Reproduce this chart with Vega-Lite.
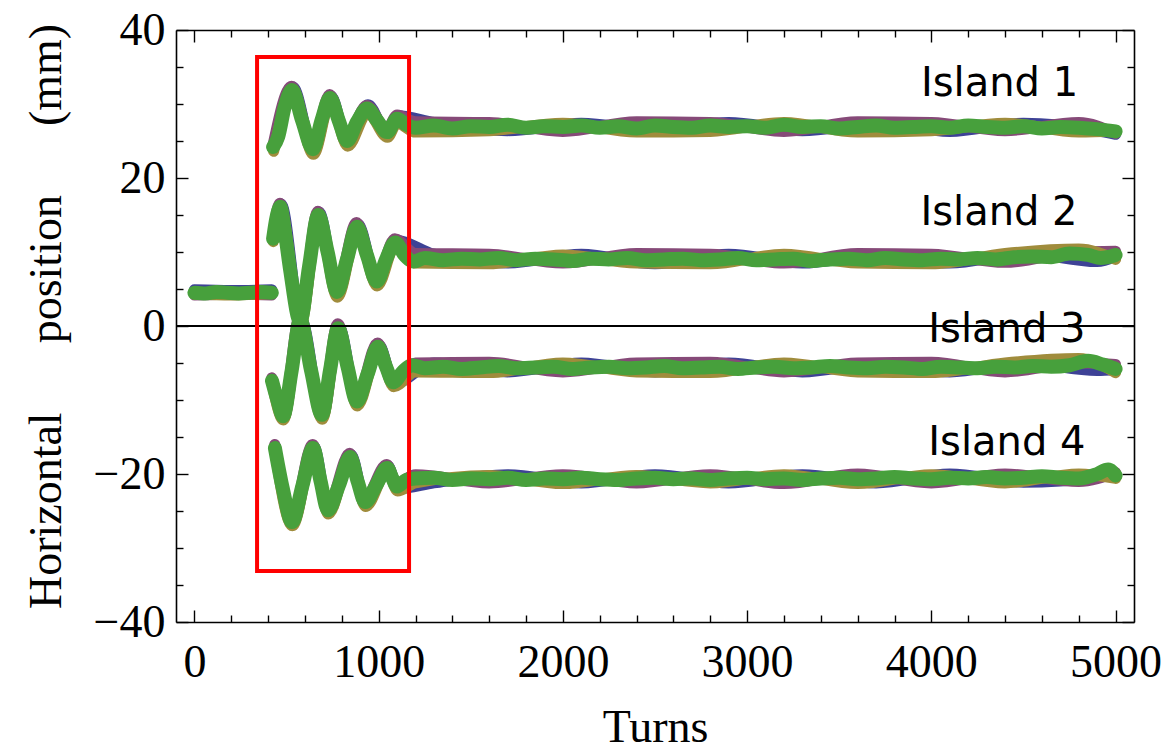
{
  "$schema": "https://vega.github.io/schema/vega-lite/v6.json",
  "width": 958,
  "height": 592,
  "autosize": {"type": "none"},
  "padding": {"left": 176, "top": 30, "right": 33, "bottom": 132},
  "background": "white",
  "config": {
    "view": {"stroke": null},
    "axis": {
      "grid": false,
      "domainColor": "black",
      "domainWidth": 1.6,
      "tickColor": "black",
      "tickWidth": 1.4,
      "labelFont": "Liberation Serif",
      "labelFontSize": 46,
      "labelColor": "black",
      "titleFont": "Liberation Serif",
      "titleFontSize": 46,
      "titleFontWeight": "normal",
      "titleColor": "black",
      "labelOverlap": false,
      "labelFlush": false
    }
  },
  "datasets": {
    "pts": [
      {"s":"b","i":0,"t":0,"y":4.9},{"s":"b","i":0,"t":200,"y":4.8},{"s":"b","i":0,"t":420,"y":4.9},
      {"s":"b","i":1,"t":430,"y":24.0},{"s":"b","i":1,"t":534,"y":32.3},{"s":"b","i":1,"t":648,"y":23.6},{"s":"b","i":1,"t":740,"y":31.1},{"s":"b","i":1,"t":834,"y":24.6},{"s":"b","i":1,"t":942,"y":29.9},{"s":"b","i":1,"t":1050,"y":25.8},{"s":"b","i":1,"t":1104,"y":28.4},{"s":"b","i":1,"t":1300,"y":27.5},{"s":"b","i":1,"t":1700,"y":26.4},{"s":"b","i":1,"t":2100,"y":27.4},{"s":"b","i":1,"t":2500,"y":26.4},{"s":"b","i":1,"t":2900,"y":27.5},{"s":"b","i":1,"t":3300,"y":26.4},{"s":"b","i":1,"t":3700,"y":27.4},{"s":"b","i":1,"t":4100,"y":26.3},{"s":"b","i":1,"t":4500,"y":27.4},{"s":"b","i":1,"t":4900,"y":26.4},{"s":"b","i":1,"t":5000,"y":25.9},
      {"s":"b","i":2,"t":428,"y":11.9},{"s":"b","i":2,"t":470,"y":16.5},{"s":"b","i":2,"t":578,"y":0.8},{"s":"b","i":2,"t":676,"y":15.4},{"s":"b","i":2,"t":778,"y":4.3},{"s":"b","i":2,"t":886,"y":13.8},{"s":"b","i":2,"t":994,"y":5.8},{"s":"b","i":2,"t":1094,"y":11.6},{"s":"b","i":2,"t":1300,"y":9.7},{"s":"b","i":2,"t":1700,"y":8.5},{"s":"b","i":2,"t":2100,"y":9.7},{"s":"b","i":2,"t":2500,"y":8.4},{"s":"b","i":2,"t":2900,"y":9.7},{"s":"b","i":2,"t":3300,"y":8.5},{"s":"b","i":2,"t":3700,"y":9.6},{"s":"b","i":2,"t":4100,"y":8.5},{"s":"b","i":2,"t":4500,"y":9.8},{"s":"b","i":2,"t":4900,"y":8.7},{"s":"b","i":2,"t":5000,"y":9.4},
      {"s":"b","i":3,"t":424,"y":-7.3},{"s":"b","i":3,"t":485,"y":-12.4},{"s":"b","i":3,"t":578,"y":1.0},{"s":"b","i":3,"t":696,"y":-12.2},{"s":"b","i":3,"t":784,"y":-0.1},{"s":"b","i":3,"t":886,"y":-10.4},{"s":"b","i":3,"t":1000,"y":-2.5},{"s":"b","i":3,"t":1084,"y":-7.8},{"s":"b","i":3,"t":1300,"y":-5.0},{"s":"b","i":3,"t":1700,"y":-6.2},{"s":"b","i":3,"t":2100,"y":-5.0},{"s":"b","i":3,"t":2500,"y":-6.2},{"s":"b","i":3,"t":2900,"y":-5.0},{"s":"b","i":3,"t":3300,"y":-6.2},{"s":"b","i":3,"t":3700,"y":-5.1},{"s":"b","i":3,"t":4100,"y":-6.2},{"s":"b","i":3,"t":4500,"y":-5.0},{"s":"b","i":3,"t":4900,"y":-6.0},{"s":"b","i":3,"t":5000,"y":-5.9},
      {"s":"b","i":4,"t":440,"y":-16.3},{"s":"b","i":4,"t":534,"y":-26.6},{"s":"b","i":4,"t":648,"y":-16.3},{"s":"b","i":4,"t":729,"y":-25.1},{"s":"b","i":4,"t":849,"y":-17.4},{"s":"b","i":4,"t":931,"y":-24.1},{"s":"b","i":4,"t":1050,"y":-18.9},{"s":"b","i":4,"t":1104,"y":-22.0},{"s":"b","i":4,"t":1300,"y":-21.2},{"s":"b","i":4,"t":1700,"y":-20.1},{"s":"b","i":4,"t":2100,"y":-21.2},{"s":"b","i":4,"t":2500,"y":-20.1},{"s":"b","i":4,"t":2900,"y":-21.2},{"s":"b","i":4,"t":3300,"y":-20.1},{"s":"b","i":4,"t":3700,"y":-21.2},{"s":"b","i":4,"t":4100,"y":-20.0},{"s":"b","i":4,"t":4500,"y":-21.1},{"s":"b","i":4,"t":4900,"y":-20.5},{"s":"b","i":4,"t":5000,"y":-20.0},

      {"s":"p","i":0,"t":0,"y":4.2},{"s":"p","i":0,"t":210,"y":4.3},{"s":"p","i":0,"t":420,"y":4.2},
      {"s":"p","i":1,"t":428,"y":24.6},{"s":"p","i":1,"t":528,"y":32.4},{"s":"p","i":1,"t":642,"y":24.3},{"s":"p","i":1,"t":734,"y":31.3},{"s":"p","i":1,"t":826,"y":25.4},{"s":"p","i":1,"t":935,"y":29.8},{"s":"p","i":1,"t":1044,"y":26.6},{"s":"p","i":1,"t":1100,"y":28.5},{"s":"p","i":1,"t":1200,"y":27.6},{"s":"p","i":1,"t":1600,"y":27.5},{"s":"p","i":1,"t":2000,"y":26.3},{"s":"p","i":1,"t":2400,"y":27.6},{"s":"p","i":1,"t":2800,"y":27.5},{"s":"p","i":1,"t":3200,"y":26.3},{"s":"p","i":1,"t":3600,"y":27.6},{"s":"p","i":1,"t":4000,"y":27.5},{"s":"p","i":1,"t":4400,"y":26.4},{"s":"p","i":1,"t":4800,"y":27.5},{"s":"p","i":1,"t":5000,"y":26.0},
      {"s":"p","i":2,"t":426,"y":12.2},{"s":"p","i":2,"t":464,"y":16.6},{"s":"p","i":2,"t":572,"y":1.0},{"s":"p","i":2,"t":670,"y":15.5},{"s":"p","i":2,"t":772,"y":5.0},{"s":"p","i":2,"t":880,"y":14.0},{"s":"p","i":2,"t":988,"y":6.4},{"s":"p","i":2,"t":1088,"y":11.8},{"s":"p","i":2,"t":1200,"y":9.8},{"s":"p","i":2,"t":1600,"y":9.7},{"s":"p","i":2,"t":2000,"y":8.5},{"s":"p","i":2,"t":2400,"y":9.8},{"s":"p","i":2,"t":2800,"y":9.7},{"s":"p","i":2,"t":3200,"y":8.5},{"s":"p","i":2,"t":3600,"y":9.8},{"s":"p","i":2,"t":4000,"y":9.7},{"s":"p","i":2,"t":4400,"y":8.6},{"s":"p","i":2,"t":4800,"y":10.0},{"s":"p","i":2,"t":5000,"y":10.1},
      {"s":"p","i":3,"t":420,"y":-7.0},{"s":"p","i":3,"t":479,"y":-11.8},{"s":"p","i":3,"t":572,"y":1.3},{"s":"p","i":3,"t":690,"y":-11.5},{"s":"p","i":3,"t":778,"y":0.3},{"s":"p","i":3,"t":880,"y":-9.8},{"s":"p","i":3,"t":994,"y":-2.3},{"s":"p","i":3,"t":1078,"y":-7.1},{"s":"p","i":3,"t":1200,"y":-5.0},{"s":"p","i":3,"t":1600,"y":-4.9},{"s":"p","i":3,"t":2000,"y":-6.2},{"s":"p","i":3,"t":2400,"y":-5.0},{"s":"p","i":3,"t":2800,"y":-4.9},{"s":"p","i":3,"t":3200,"y":-6.2},{"s":"p","i":3,"t":3600,"y":-5.0},{"s":"p","i":3,"t":4000,"y":-4.9},{"s":"p","i":3,"t":4400,"y":-6.2},{"s":"p","i":3,"t":4800,"y":-5.0},{"s":"p","i":3,"t":5000,"y":-5.2},
      {"s":"p","i":4,"t":436,"y":-16.0},{"s":"p","i":4,"t":528,"y":-26.0},{"s":"p","i":4,"t":642,"y":-16.0},{"s":"p","i":4,"t":723,"y":-24.4},{"s":"p","i":4,"t":843,"y":-17.2},{"s":"p","i":4,"t":925,"y":-23.3},{"s":"p","i":4,"t":1044,"y":-18.7},{"s":"p","i":4,"t":1098,"y":-21.2},{"s":"p","i":4,"t":1200,"y":-20.1},{"s":"p","i":4,"t":1600,"y":-21.2},{"s":"p","i":4,"t":2000,"y":-20.1},{"s":"p","i":4,"t":2400,"y":-21.2},{"s":"p","i":4,"t":2800,"y":-20.1},{"s":"p","i":4,"t":3200,"y":-21.3},{"s":"p","i":4,"t":3600,"y":-20.0},{"s":"p","i":4,"t":4000,"y":-21.2},{"s":"p","i":4,"t":4400,"y":-20.0},{"s":"p","i":4,"t":4800,"y":-21.0},{"s":"p","i":4,"t":5000,"y":-19.8},

      {"s":"o","i":0,"t":0,"y":4.3},{"s":"o","i":0,"t":200,"y":4.2},{"s":"o","i":0,"t":420,"y":4.4},
      {"s":"o","i":1,"t":430,"y":23.6},{"s":"o","i":1,"t":532,"y":31.5},{"s":"o","i":1,"t":646,"y":23.2},{"s":"o","i":1,"t":738,"y":30.3},{"s":"o","i":1,"t":832,"y":24.3},{"s":"o","i":1,"t":940,"y":28.8},{"s":"o","i":1,"t":1048,"y":25.5},{"s":"o","i":1,"t":1100,"y":27.4},{"s":"o","i":1,"t":1200,"y":26.2},{"s":"o","i":1,"t":1600,"y":26.4},{"s":"o","i":1,"t":2000,"y":27.4},{"s":"o","i":1,"t":2400,"y":26.2},{"s":"o","i":1,"t":2800,"y":26.3},{"s":"o","i":1,"t":3200,"y":27.5},{"s":"o","i":1,"t":3600,"y":26.2},{"s":"o","i":1,"t":4000,"y":26.4},{"s":"o","i":1,"t":4400,"y":27.4},{"s":"o","i":1,"t":4800,"y":26.2},{"s":"o","i":1,"t":5000,"y":26.4},
      {"s":"o","i":2,"t":428,"y":11.4},{"s":"o","i":2,"t":468,"y":15.6},{"s":"o","i":2,"t":576,"y":0.2},{"s":"o","i":2,"t":674,"y":14.4},{"s":"o","i":2,"t":776,"y":3.9},{"s":"o","i":2,"t":884,"y":12.8},{"s":"o","i":2,"t":992,"y":5.4},{"s":"o","i":2,"t":1090,"y":10.8},{"s":"o","i":2,"t":1200,"y":8.5},{"s":"o","i":2,"t":1600,"y":8.4},{"s":"o","i":2,"t":2000,"y":9.6},{"s":"o","i":2,"t":2400,"y":8.5},{"s":"o","i":2,"t":2800,"y":8.4},{"s":"o","i":2,"t":3200,"y":9.7},{"s":"o","i":2,"t":3600,"y":8.5},{"s":"o","i":2,"t":4000,"y":8.4},{"s":"o","i":2,"t":4400,"y":9.8},{"s":"o","i":2,"t":4800,"y":10.4},{"s":"o","i":2,"t":5000,"y":9.0},
      {"s":"o","i":3,"t":422,"y":-7.8},{"s":"o","i":3,"t":483,"y":-12.7},{"s":"o","i":3,"t":576,"y":0.3},{"s":"o","i":3,"t":694,"y":-12.6},{"s":"o","i":3,"t":782,"y":-0.8},{"s":"o","i":3,"t":884,"y":-10.8},{"s":"o","i":3,"t":998,"y":-3.3},{"s":"o","i":3,"t":1082,"y":-8.2},{"s":"o","i":3,"t":1200,"y":-6.2},{"s":"o","i":3,"t":1600,"y":-6.3},{"s":"o","i":3,"t":2000,"y":-5.0},{"s":"o","i":3,"t":2400,"y":-6.2},{"s":"o","i":3,"t":2800,"y":-6.3},{"s":"o","i":3,"t":3200,"y":-5.0},{"s":"o","i":3,"t":3600,"y":-6.2},{"s":"o","i":3,"t":4000,"y":-6.3},{"s":"o","i":3,"t":4400,"y":-5.0},{"s":"o","i":3,"t":4800,"y":-4.4},{"s":"o","i":3,"t":5000,"y":-6.3},
      {"s":"o","i":4,"t":438,"y":-17.0},{"s":"o","i":4,"t":532,"y":-27.0},{"s":"o","i":4,"t":646,"y":-17.0},{"s":"o","i":4,"t":727,"y":-25.4},{"s":"o","i":4,"t":847,"y":-18.0},{"s":"o","i":4,"t":929,"y":-24.4},{"s":"o","i":4,"t":1048,"y":-19.6},{"s":"o","i":4,"t":1102,"y":-22.3},{"s":"o","i":4,"t":1200,"y":-21.2},{"s":"o","i":4,"t":1600,"y":-20.2},{"s":"o","i":4,"t":2000,"y":-21.3},{"s":"o","i":4,"t":2400,"y":-20.2},{"s":"o","i":4,"t":2800,"y":-21.2},{"s":"o","i":4,"t":3200,"y":-20.1},{"s":"o","i":4,"t":3600,"y":-21.3},{"s":"o","i":4,"t":4000,"y":-20.1},{"s":"o","i":4,"t":4400,"y":-21.2},{"s":"o","i":4,"t":4800,"y":-20.0},{"s":"o","i":4,"t":5000,"y":-20.6},

      {"s":"g","i":0,"t":0,"y":4.5},{"s":"g","i":0,"t":60,"y":4.4},{"s":"g","i":0,"t":120,"y":4.6},{"s":"g","i":0,"t":180,"y":4.5},{"s":"g","i":0,"t":240,"y":4.4},{"s":"g","i":0,"t":300,"y":4.5},{"s":"g","i":0,"t":360,"y":4.6},{"s":"g","i":0,"t":420,"y":4.5},
      {"s":"g","i":1,"t":427,"y":24.2},{"s":"g","i":1,"t":455,"y":25.6},{"s":"g","i":1,"t":490,"y":29.6},{"s":"g","i":1,"t":530,"y":31.9},{"s":"g","i":1,"t":584,"y":27.8},{"s":"g","i":1,"t":644,"y":23.9},{"s":"g","i":1,"t":690,"y":27.8},{"s":"g","i":1,"t":736,"y":30.8},{"s":"g","i":1,"t":783,"y":27.8},{"s":"g","i":1,"t":829,"y":25.0},{"s":"g","i":1,"t":883,"y":27.6},{"s":"g","i":1,"t":937,"y":29.4},{"s":"g","i":1,"t":991,"y":27.8},{"s":"g","i":1,"t":1046,"y":26.2},{"s":"g","i":1,"t":1100,"y":28.0},{"s":"g","i":1,"t":1150,"y":27.2},{"s":"g","i":1,"t":1200,"y":26.8},{"s":"g","i":1,"t":1300,"y":27.1},{"s":"g","i":1,"t":1400,"y":26.7},{"s":"g","i":1,"t":1500,"y":27.0},{"s":"g","i":1,"t":1600,"y":26.9},{"s":"g","i":1,"t":1700,"y":27.2},{"s":"g","i":1,"t":1800,"y":26.8},{"s":"g","i":1,"t":1900,"y":27.0},{"s":"g","i":1,"t":2000,"y":26.9},{"s":"g","i":1,"t":2100,"y":27.1},{"s":"g","i":1,"t":2200,"y":26.8},{"s":"g","i":1,"t":2300,"y":27.0},{"s":"g","i":1,"t":2400,"y":26.7},{"s":"g","i":1,"t":2500,"y":27.1},{"s":"g","i":1,"t":2600,"y":26.9},{"s":"g","i":1,"t":2700,"y":26.8},{"s":"g","i":1,"t":2800,"y":27.1},{"s":"g","i":1,"t":2900,"y":26.9},{"s":"g","i":1,"t":3000,"y":27.0},{"s":"g","i":1,"t":3100,"y":26.8},{"s":"g","i":1,"t":3200,"y":27.2},{"s":"g","i":1,"t":3300,"y":26.9},{"s":"g","i":1,"t":3400,"y":27.0},{"s":"g","i":1,"t":3500,"y":26.7},{"s":"g","i":1,"t":3600,"y":26.9},{"s":"g","i":1,"t":3700,"y":27.1},{"s":"g","i":1,"t":3800,"y":26.8},{"s":"g","i":1,"t":3900,"y":26.9},{"s":"g","i":1,"t":4000,"y":27.0},{"s":"g","i":1,"t":4100,"y":26.8},{"s":"g","i":1,"t":4200,"y":27.1},{"s":"g","i":1,"t":4300,"y":26.9},{"s":"g","i":1,"t":4400,"y":26.8},{"s":"g","i":1,"t":4500,"y":27.0},{"s":"g","i":1,"t":4600,"y":26.7},{"s":"g","i":1,"t":4700,"y":26.9},{"s":"g","i":1,"t":4800,"y":26.8},{"s":"g","i":1,"t":4900,"y":26.6},{"s":"g","i":1,"t":5000,"y":26.3},
      {"s":"g","i":2,"t":427,"y":11.8},{"s":"g","i":2,"t":445,"y":14.6},{"s":"g","i":2,"t":466,"y":16.1},{"s":"g","i":2,"t":492,"y":12.5},{"s":"g","i":2,"t":520,"y":7.5},{"s":"g","i":2,"t":574,"y":0.6},{"s":"g","i":2,"t":622,"y":8.0},{"s":"g","i":2,"t":672,"y":15.0},{"s":"g","i":2,"t":723,"y":10.0},{"s":"g","i":2,"t":774,"y":4.6},{"s":"g","i":2,"t":828,"y":9.0},{"s":"g","i":2,"t":882,"y":13.4},{"s":"g","i":2,"t":936,"y":9.6},{"s":"g","i":2,"t":990,"y":6.0},{"s":"g","i":2,"t":1040,"y":9.0},{"s":"g","i":2,"t":1090,"y":11.3},{"s":"g","i":2,"t":1140,"y":9.6},{"s":"g","i":2,"t":1190,"y":8.7},{"s":"g","i":2,"t":1250,"y":9.2},{"s":"g","i":2,"t":1350,"y":8.9},{"s":"g","i":2,"t":1450,"y":9.1},{"s":"g","i":2,"t":1550,"y":9.0},{"s":"g","i":2,"t":1650,"y":9.2},{"s":"g","i":2,"t":1750,"y":8.9},{"s":"g","i":2,"t":1850,"y":9.1},{"s":"g","i":2,"t":1950,"y":9.0},{"s":"g","i":2,"t":2050,"y":8.8},{"s":"g","i":2,"t":2150,"y":9.1},{"s":"g","i":2,"t":2250,"y":9.0},{"s":"g","i":2,"t":2350,"y":9.2},{"s":"g","i":2,"t":2450,"y":8.9},{"s":"g","i":2,"t":2550,"y":9.0},{"s":"g","i":2,"t":2650,"y":9.1},{"s":"g","i":2,"t":2750,"y":8.9},{"s":"g","i":2,"t":2850,"y":9.0},{"s":"g","i":2,"t":2950,"y":9.2},{"s":"g","i":2,"t":3050,"y":8.9},{"s":"g","i":2,"t":3150,"y":9.0},{"s":"g","i":2,"t":3250,"y":9.1},{"s":"g","i":2,"t":3350,"y":8.8},{"s":"g","i":2,"t":3450,"y":9.0},{"s":"g","i":2,"t":3550,"y":9.1},{"s":"g","i":2,"t":3650,"y":8.9},{"s":"g","i":2,"t":3750,"y":9.2},{"s":"g","i":2,"t":3850,"y":9.0},{"s":"g","i":2,"t":3950,"y":8.9},{"s":"g","i":2,"t":4050,"y":9.1},{"s":"g","i":2,"t":4150,"y":9.0},{"s":"g","i":2,"t":4250,"y":9.2},{"s":"g","i":2,"t":4350,"y":9.0},{"s":"g","i":2,"t":4450,"y":9.3},{"s":"g","i":2,"t":4550,"y":9.4},{"s":"g","i":2,"t":4650,"y":9.3},{"s":"g","i":2,"t":4750,"y":9.8},{"s":"g","i":2,"t":4850,"y":9.6},{"s":"g","i":2,"t":4920,"y":9.2},{"s":"g","i":2,"t":5000,"y":9.6},
      {"s":"g","i":3,"t":421,"y":-7.4},{"s":"g","i":3,"t":450,"y":-10.0},{"s":"g","i":3,"t":481,"y":-12.2},{"s":"g","i":3,"t":528,"y":-6.0},{"s":"g","i":3,"t":574,"y":0.8},{"s":"g","i":3,"t":633,"y":-6.0},{"s":"g","i":3,"t":692,"y":-12.0},{"s":"g","i":3,"t":736,"y":-6.0},{"s":"g","i":3,"t":780,"y":-0.3},{"s":"g","i":3,"t":831,"y":-5.5},{"s":"g","i":3,"t":882,"y":-10.2},{"s":"g","i":3,"t":940,"y":-6.5},{"s":"g","i":3,"t":996,"y":-2.8},{"s":"g","i":3,"t":1040,"y":-5.5},{"s":"g","i":3,"t":1080,"y":-7.6},{"s":"g","i":3,"t":1130,"y":-6.2},{"s":"g","i":3,"t":1180,"y":-5.3},{"s":"g","i":3,"t":1250,"y":-5.7},{"s":"g","i":3,"t":1350,"y":-5.5},{"s":"g","i":3,"t":1450,"y":-5.8},{"s":"g","i":3,"t":1550,"y":-5.6},{"s":"g","i":3,"t":1650,"y":-5.4},{"s":"g","i":3,"t":1750,"y":-5.7},{"s":"g","i":3,"t":1850,"y":-5.6},{"s":"g","i":3,"t":1950,"y":-5.5},{"s":"g","i":3,"t":2050,"y":-5.8},{"s":"g","i":3,"t":2150,"y":-5.6},{"s":"g","i":3,"t":2250,"y":-5.5},{"s":"g","i":3,"t":2350,"y":-5.7},{"s":"g","i":3,"t":2450,"y":-5.6},{"s":"g","i":3,"t":2550,"y":-5.4},{"s":"g","i":3,"t":2650,"y":-5.7},{"s":"g","i":3,"t":2750,"y":-5.6},{"s":"g","i":3,"t":2850,"y":-5.5},{"s":"g","i":3,"t":2950,"y":-5.8},{"s":"g","i":3,"t":3050,"y":-5.6},{"s":"g","i":3,"t":3150,"y":-5.5},{"s":"g","i":3,"t":3250,"y":-5.7},{"s":"g","i":3,"t":3350,"y":-5.6},{"s":"g","i":3,"t":3450,"y":-5.4},{"s":"g","i":3,"t":3550,"y":-5.6},{"s":"g","i":3,"t":3650,"y":-5.7},{"s":"g","i":3,"t":3750,"y":-5.5},{"s":"g","i":3,"t":3850,"y":-5.6},{"s":"g","i":3,"t":3950,"y":-5.8},{"s":"g","i":3,"t":4050,"y":-5.5},{"s":"g","i":3,"t":4150,"y":-5.6},{"s":"g","i":3,"t":4250,"y":-5.7},{"s":"g","i":3,"t":4350,"y":-5.5},{"s":"g","i":3,"t":4450,"y":-5.6},{"s":"g","i":3,"t":4550,"y":-5.4},{"s":"g","i":3,"t":4650,"y":-5.5},{"s":"g","i":3,"t":4750,"y":-5.3},{"s":"g","i":3,"t":4850,"y":-4.7},{"s":"g","i":3,"t":4930,"y":-5.2},{"s":"g","i":3,"t":5000,"y":-5.8},
      {"s":"g","i":4,"t":437,"y":-16.5},{"s":"g","i":4,"t":480,"y":-22.0},{"s":"g","i":4,"t":530,"y":-26.5},{"s":"g","i":4,"t":587,"y":-21.5},{"s":"g","i":4,"t":644,"y":-16.5},{"s":"g","i":4,"t":685,"y":-21.0},{"s":"g","i":4,"t":725,"y":-24.9},{"s":"g","i":4,"t":785,"y":-21.5},{"s":"g","i":4,"t":845,"y":-17.7},{"s":"g","i":4,"t":886,"y":-21.0},{"s":"g","i":4,"t":927,"y":-23.8},{"s":"g","i":4,"t":987,"y":-21.5},{"s":"g","i":4,"t":1046,"y":-19.2},{"s":"g","i":4,"t":1073,"y":-20.5},{"s":"g","i":4,"t":1100,"y":-21.7},{"s":"g","i":4,"t":1150,"y":-20.8},{"s":"g","i":4,"t":1200,"y":-20.6},{"s":"g","i":4,"t":1300,"y":-20.5},{"s":"g","i":4,"t":1400,"y":-20.8},{"s":"g","i":4,"t":1500,"y":-20.6},{"s":"g","i":4,"t":1600,"y":-20.7},{"s":"g","i":4,"t":1700,"y":-20.5},{"s":"g","i":4,"t":1800,"y":-20.8},{"s":"g","i":4,"t":1900,"y":-20.6},{"s":"g","i":4,"t":2000,"y":-20.7},{"s":"g","i":4,"t":2100,"y":-20.5},{"s":"g","i":4,"t":2200,"y":-20.7},{"s":"g","i":4,"t":2300,"y":-20.8},{"s":"g","i":4,"t":2400,"y":-20.6},{"s":"g","i":4,"t":2500,"y":-20.5},{"s":"g","i":4,"t":2600,"y":-20.7},{"s":"g","i":4,"t":2700,"y":-20.6},{"s":"g","i":4,"t":2800,"y":-20.8},{"s":"g","i":4,"t":2900,"y":-20.6},{"s":"g","i":4,"t":3000,"y":-20.5},{"s":"g","i":4,"t":3100,"y":-20.7},{"s":"g","i":4,"t":3200,"y":-20.6},{"s":"g","i":4,"t":3300,"y":-20.8},{"s":"g","i":4,"t":3400,"y":-20.6},{"s":"g","i":4,"t":3500,"y":-20.5},{"s":"g","i":4,"t":3600,"y":-20.7},{"s":"g","i":4,"t":3700,"y":-20.6},{"s":"g","i":4,"t":3800,"y":-20.4},{"s":"g","i":4,"t":3900,"y":-20.6},{"s":"g","i":4,"t":4000,"y":-20.7},{"s":"g","i":4,"t":4100,"y":-20.5},{"s":"g","i":4,"t":4200,"y":-20.6},{"s":"g","i":4,"t":4300,"y":-20.4},{"s":"g","i":4,"t":4400,"y":-20.6},{"s":"g","i":4,"t":4500,"y":-20.5},{"s":"g","i":4,"t":4600,"y":-20.3},{"s":"g","i":4,"t":4700,"y":-20.5},{"s":"g","i":4,"t":4800,"y":-20.6},{"s":"g","i":4,"t":4900,"y":-20.0},{"s":"g","i":4,"t":4960,"y":-19.4},{"s":"g","i":4,"t":5000,"y":-20.2}
    ],
    "box": [{"t1": 340, "t2": 1165, "y1": 36.35, "y2": -33.1}],
    "zero": [{"z": 0}],
    "lab": [
      {"t": 4370, "y": 31.1, "label": "Island 1"},
      {"t": 4367, "y": 13.65, "label": "Island 2"},
      {"t": 4410, "y": -2.16, "label": "Island 3"},
      {"t": 4410, "y": -17.43, "label": "Island 4"}
    ]
  },
  "resolve": {"axis": {"x": "independent", "y": "independent"}},
  "layer": [
    {
      "data": {"name": "pts"},
      "transform": [{"filter": "datum.s === 'b'"}],
      "mark": {"type": "line", "strokeWidth": 11, "strokeCap": "round", "strokeJoin": "round", "interpolate": "monotone", "color": "#3e4296"},
      "encoding": {
        "x": {"field": "t", "type": "quantitative", "scale": {"domain": [-100, 5100], "nice": false, "zero": false},
          "axis": {"orient": "bottom", "values": [0,200,400,600,800,1000,1200,1400,1600,1800,2000,2200,2400,2600,2800,3000,3200,3400,3600,3800,4000,4200,4400,4600,4800,5000],
            "format": "d", "labelExpr": "datum.value % 1000 === 0 ? datum.label : ''",
            "tickSize": {"condition": {"test": "datum.value % 1000 === 0", "value": -12}, "value": -7},
            "labelPadding": 30, "title": "Turns", "titleX": 479, "titleY": 119, "titleBaseline": "alphabetic", "titleAlign": "center", "titleAnchor": null}},
        "y": {"field": "y", "type": "quantitative", "scale": {"domain": [-40, 40], "nice": false, "zero": false},
          "axis": {"orient": "left", "values": [-40,-35,-30,-25,-20,-15,-10,-5,0,5,10,15,20,25,30,35,40],
            "labelExpr": "datum.value % 20 === 0 ? datum.label : ''",
            "tickSize": {"condition": {"test": "datum.value % 20 === 0", "value": -12}, "value": -7},
            "labelPadding": 23,
            "title": "Horizontal\u00a0\u00a0\u00a0\u00a0\u00a0\u00a0position\u00a0\u00a0\u00a0\u00a0\u00a0\u00a0(mm)",
            "titleX": -116, "titleY": 286, "titleAngle": -90, "titleAlign": "center", "titleBaseline": "alphabetic", "titleAnchor": null}},
        "detail": {"field": "i", "type": "nominal"}
      }
    },
    {
      "data": {"name": "pts"},
      "transform": [{"filter": "datum.s === 'p'"}],
      "mark": {"type": "line", "strokeWidth": 11, "strokeCap": "round", "strokeJoin": "round", "interpolate": "monotone", "color": "#864a78"},
      "encoding": {
        "x": {"field": "t", "type": "quantitative", "scale": {"domain": [-100, 5100], "nice": false, "zero": false}, "axis": null},
        "y": {"field": "y", "type": "quantitative", "scale": {"domain": [-40, 40], "nice": false, "zero": false}, "axis": null},
        "detail": {"field": "i", "type": "nominal"}
      }
    },
    {
      "data": {"name": "pts"},
      "transform": [{"filter": "datum.s === 'o'"}],
      "mark": {"type": "line", "strokeWidth": 11, "strokeCap": "round", "strokeJoin": "round", "interpolate": "monotone", "color": "#a08c3c"},
      "encoding": {
        "x": {"field": "t", "type": "quantitative", "scale": {"domain": [-100, 5100], "nice": false, "zero": false}, "axis": null},
        "y": {"field": "y", "type": "quantitative", "scale": {"domain": [-40, 40], "nice": false, "zero": false}, "axis": null},
        "detail": {"field": "i", "type": "nominal"}
      }
    },
    {
      "data": {"name": "pts"},
      "transform": [{"filter": "datum.s === 'g'"}],
      "mark": {"type": "line", "strokeWidth": 14, "strokeCap": "round", "strokeJoin": "round", "interpolate": "monotone", "color": "#47a03c"},
      "encoding": {
        "x": {"field": "t", "type": "quantitative", "scale": {"domain": [-100, 5100], "nice": false, "zero": false}, "axis": null},
        "y": {"field": "y", "type": "quantitative", "scale": {"domain": [-40, 40], "nice": false, "zero": false}, "axis": null},
        "detail": {"field": "i", "type": "nominal"}
      }
    },
    {
      "data": {"name": "zero"},
      "mark": {"type": "rule", "color": "black", "strokeWidth": 2},
      "encoding": {
        "y": {"field": "z", "type": "quantitative", "scale": {"domain": [-40, 40], "nice": false, "zero": false}, "axis": null}
      }
    },
    {
      "data": {"name": "box"},
      "mark": {"type": "rect", "stroke": "#ff0000", "strokeWidth": 4, "fillOpacity": 0, "fill": "white"},
      "encoding": {
        "x": {"field": "t1", "type": "quantitative", "scale": {"domain": [-100, 5100], "nice": false, "zero": false},
          "axis": {"orient": "top", "values": [0,200,400,600,800,1000,1200,1400,1600,1800,2000,2200,2400,2600,2800,3000,3200,3400,3600,3800,4000,4200,4400,4600,4800,5000],
            "labels": false, "title": null,
            "tickSize": {"condition": {"test": "datum.value % 1000 === 0", "value": -12}, "value": -7}}},
        "x2": {"field": "t2"},
        "y": {"field": "y1", "type": "quantitative", "scale": {"domain": [-40, 40], "nice": false, "zero": false},
          "axis": {"orient": "right", "values": [-40,-35,-30,-25,-20,-15,-10,-5,0,5,10,15,20,25,30,35,40],
            "labels": false, "title": null,
            "tickSize": {"condition": {"test": "datum.value % 20 === 0", "value": -12}, "value": -7}}},
        "y2": {"field": "y2"}
      }
    },
    {
      "data": {"name": "lab"},
      "mark": {"type": "text", "font": "DejaVu Sans", "fontSize": 40, "align": "center", "baseline": "alphabetic", "color": "black"},
      "encoding": {
        "x": {"field": "t", "type": "quantitative", "scale": {"domain": [-100, 5100], "nice": false, "zero": false}, "axis": null},
        "y": {"field": "y", "type": "quantitative", "scale": {"domain": [-40, 40], "nice": false, "zero": false}, "axis": null},
        "text": {"field": "label"}
      }
    }
  ]
}
